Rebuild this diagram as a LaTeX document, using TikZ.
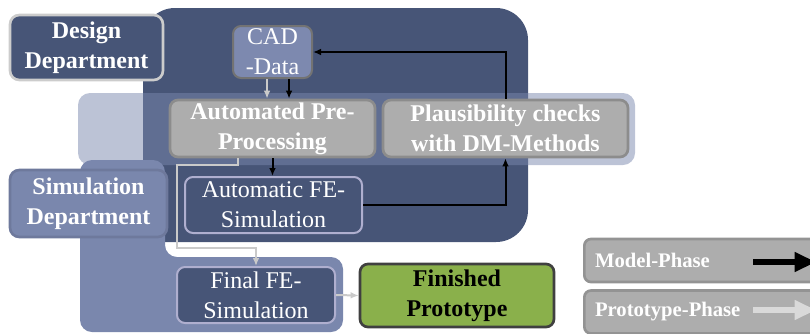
\documentclass[tikz,border=0pt]{standalone}
\usepackage{fontspec}
\setmainfont{Liberation Serif}
\usetikzlibrary{arrows.meta,positioning}
\definecolor{darkblue}{HTML}{475577}
\definecolor{midblue}{HTML}{7A87AD}
\definecolor{cadblue}{HTML}{7D89AF}
\definecolor{boxgray}{HTML}{ADADAD}
\definecolor{protogray}{HTML}{CACACA}
\definecolor{protogreen}{HTML}{8AB04B}
\tikzstyle{dept} = [rectangle, rounded corners=7pt, line width=2pt, text=white,
    align=center, inner sep=0pt, font=\fontsize{18}{22.5}\selectfont\bfseries]
\tikzstyle{stepbox} = [rectangle, rounded corners=6pt, line width=2pt, text=white,
    align=center, inner sep=0pt, font=\fontsize{18}{22.5}\selectfont\bfseries]
\tikzstyle{sim} = [rectangle, rounded corners=6pt, draw=blue!25!gray!50, line width=1.5pt,
    fill=darkblue, text=white, align=center, inner sep=0pt, font=\fontsize{18}{22.5}\selectfont]
\tikzstyle{legendbox} = [rectangle, rounded corners=5pt, draw=gray!85, line width=2pt,
    fill=boxgray, text=white, align=left, inner xsep=8pt, inner ysep=0pt,
    font=\fontsize{15.5}{18}\selectfont\bfseries, anchor=west]
\tikzstyle{line} = [draw, line width=1.5pt, -{Latex[length=6pt,width=5pt]}]
\tikzstyle{protoline} = [draw=protogray, line width=1.5pt, -{Latex[length=6pt,width=5pt]}]

\begin{document}
\begin{tikzpicture}[x=0.75pt, y=-0.75pt]
    \useasboundingbox (0,0) rectangle (810,333);
    \clip (0,0) rectangle (810,333);

    % Department areas
    \fill [darkblue, rounded corners=24pt] (143,120) -- (143,8) -- (528,8) -- (528,242)
        [rounded corners=6pt] -- (143,242) -- cycle;
    \fill [midblue, opacity=0.5, rounded corners=9pt] (78,93) rectangle (635,165);
    \fill [midblue, rounded corners=9pt] (80,160) -- (165,160) -- (165,257)
        -- (343,257) -- (343,332) -- (80,332) -- cycle;

    % Place nodes
    \node [dept, draw=gray!40, fill=darkblue, minimum width=114.75pt, minimum height=48.75pt]
        (design) at (86.5,47.5) {Design\\Department};
    \node [dept, draw=midblue!90!black, fill=midblue, minimum width=117.75pt, minimum height=50.25pt]
        (simulation) at (88.5,203.5) {Simulation\\Department};

    \node [stepbox, draw=gray!90!black, fill=cadblue, line width=1.5pt, font=\fontsize{18}{22.5}\selectfont,
        minimum width=59.25pt, minimum height=39pt] (cad) at (272.5,52) {CAD\\-Data};
    \node [stepbox, draw=gray!90, fill=boxgray, minimum width=153.75pt, minimum height=42.75pt]
        (prepro) at (272.5,128.5) {Automated Pre-\\Processing};
    \node [stepbox, draw=gray!90, fill=boxgray, minimum width=183.75pt, minimum height=42.75pt]
        (plausi) at (505.5,128.5) {Plausibility checks\\with DM-Methods};
    \node [sim, minimum width=132.75pt, minimum height=42pt] (autofe) at (273.5,205)
        {Automatic FE-\\Simulation};
    \node [sim, minimum width=118.5pt, minimum height=42pt] (finalfe) at (256,295)
        {Final FE-\\Simulation};
    \node [stepbox, draw=darkgray, fill=protogreen, text=black, minimum width=145.5pt, minimum height=47.25pt]
        (finished) at (457,295.5) {Finished\\Prototype};

    \node [legendbox, text width=170pt, minimum height=32.25pt] (model) at (583,260.5) {Model-Phase};
    \node [legendbox, text width=170pt, minimum height=32.25pt] (proto) at (583,312) {Prototype-Phase};
    \coordinate (mstart) at (753,262);
    \coordinate (mend) at (816,262);
    \coordinate (pstart) at (753,310);
    \coordinate (pend) at (816,310);

    % Draw edges
    \path [protoline] ([xshift=-4.1pt]cad.south) -- ([xshift=-4.1pt]cad.south |- prepro.north);
    \path [line] ([xshift=12.4pt]cad.south) -- ([xshift=12.4pt]cad.south |- prepro.north);
    \path [line] (prepro.south) -- (prepro.south |- autofe.north);
    \path [line] (autofe.east) -| (plausi.south);
    \path [line] (plausi.north) |- (cad.east);
    \path [protoline] ([xshift=-25.9pt]prepro.south) -- ++(0,7) -| (177,248) -| (finalfe.north);
    \path [protoline] (finalfe.east) -- (finished.west);

    \draw [line width=4.5pt, -{Triangle[length=16pt,width=14pt]}] (mstart) -- (mend);
    \draw [line width=4.5pt, gray!30, -{Triangle[length=16pt,width=14pt]}] (pstart) -- (pend);
\end{tikzpicture}
\end{document}
